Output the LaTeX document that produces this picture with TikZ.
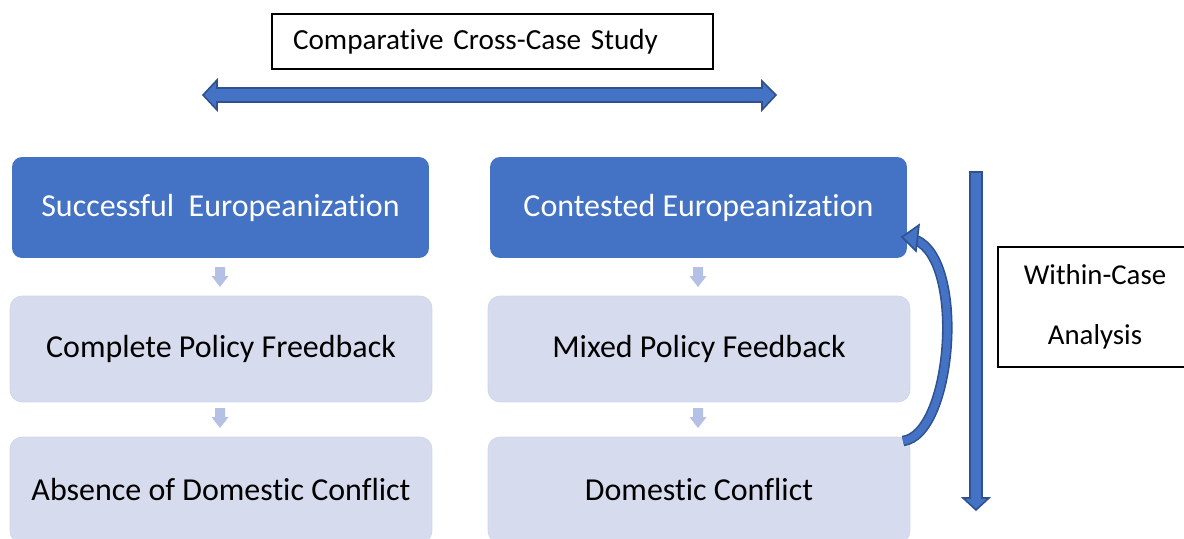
\documentclass[tikz,border=0pt]{standalone}
\usepackage{fontspec}
\setmainfont{Carlito}[Ligatures=CommonOff]
\definecolor{boxblue}{HTML}{4472C4}
\definecolor{edgeblue}{HTML}{2F528F}
\definecolor{paleblue}{HTML}{D6DBED}
\definecolor{arrowpale}{HTML}{B4C1E5}

\begin{document}
\begin{tikzpicture}[x=0.02cm, y=-0.02cm,
    casebox/.style={fill=boxblue, text=white, rounded corners=0.2cm,
        minimum width=8.34cm, minimum height=2.02cm, font=\fontsize{18.2}{21}\selectfont},
    fbbox/.style={fill=paleblue, draw=paleblue!80!arrowpale, line width=0.4pt, rounded corners=0.24cm,
        minimum width=8.44cm, minimum height=2.12cm, font=\fontsize{18.2}{21}\selectfont},
    framebox/.style={draw=black, line width=0.8pt, fill=white},
    blockarrow/.style={fill=boxblue, draw=edgeblue, line width=0.9pt},
    smallarrow/.style={fill=arrowpale, draw=none}]
    \useasboundingbox (0,0) rectangle (1184,538);
    \clip (0,0) rectangle (1184,538);

    % study boxes
    \node[framebox, minimum height=1.1cm, text width=7.98cm, inner xsep=0.42cm, align=left,
        font=\fontsize{16.6}{20}\selectfont] (cross) at (492.5, 41.5) {Comparative Cross-Case Study};
    \node[framebox, minimum width=3.88cm, minimum height=2.4cm, align=center,
        font=\fontsize{16.4}{34}\selectfont] (within) at (1095, 307) {Within-Case\\Analysis};

    % cases
    \node[casebox] (succ) at (220.5, 207.5) {Successful\ \ Europeanization};
    \node[casebox] (cont) at (698.5, 207.5) {Contested Europeanization};
    \node[fbbox] (compl) at (221, 349) {Complete Policy Freedback};
    \node[fbbox] (mixed) at (699, 349) {Mixed Policy Feedback};
    \node[fbbox] (absence) at (221, 490) {Absence of Domestic Conflict};
    \node[fbbox] (domestic) at (699, 490) {Domestic Conflict};

    % cross-case arrow
    \draw[blockarrow] (203,95) -- (217,80) -- (217,88) -- (762,88) -- (762,81) -- (776,95)
        -- (762,110) -- (762,102) -- (217,102) -- (217,110) -- cycle;

    % within-case arrow
    \draw[blockarrow] (970,172) -- (982,172) -- (982,498) -- (989,498) -- (976,510)
        -- (963,498) -- (970,498) -- cycle;

    % small arrows between the boxes
    \foreach \cx in {220, 698} {
        \foreach \ytop in {267, 408} {
            \fill[smallarrow] (\cx-5,\ytop) -- (\cx+5,\ytop) -- (\cx+5,\ytop+9) -- (\cx+8.5,\ytop+9)
                -- (\cx,\ytop+20) -- (\cx-8.5,\ytop+9) -- (\cx-5,\ytop+9) -- cycle;
        }
    }

    % feedback loop
    \coordinate (loopstart) at (903, 441);
    \coordinate (loopend) at (916, 240);
    \draw[edgeblue, line width=6pt] (loopstart) .. controls (952,435) and (966,262) .. (loopend);
    \draw[boxblue, line width=4.2pt] (loopstart) .. controls (952,435) and (966,262) .. (loopend);
    \draw[blockarrow] (902,237) -- (919,225) -- (916,251) -- cycle;
\end{tikzpicture}
\end{document}
